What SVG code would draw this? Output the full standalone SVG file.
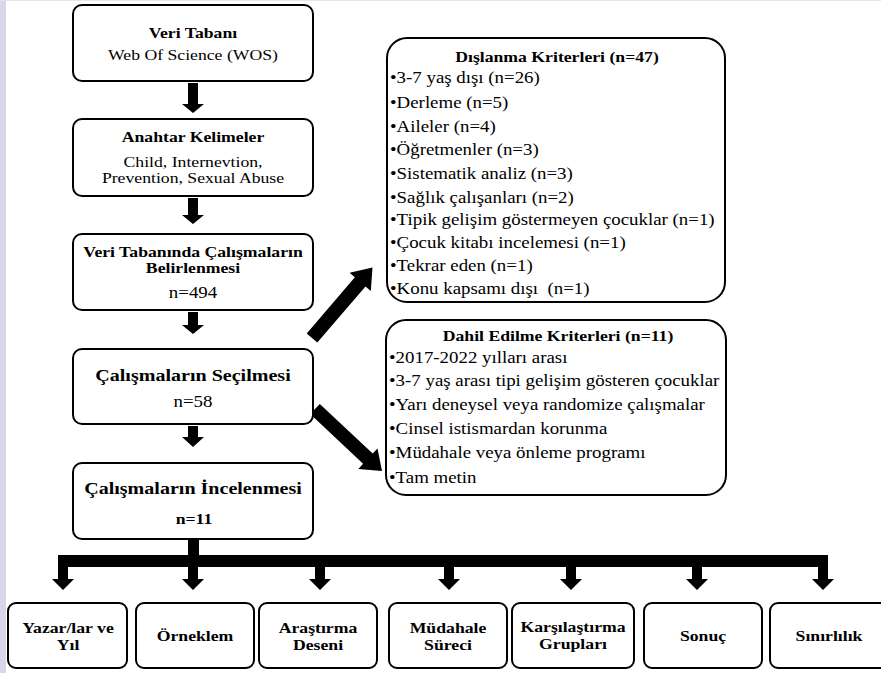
<svg xmlns="http://www.w3.org/2000/svg" width="881" height="673" viewBox="0 0 881 673">
  <style>
    .box { fill: #ffffff; stroke: #000000; stroke-width: 2; }
    .t { font-family: "Liberation Serif", "Times New Roman", serif; fill: #000000; }
    .c { text-anchor: middle; }
    .b { font-weight: bold; }
    .s15 { font-size: 15px; }
    .s16 { font-size: 16px; }
    .s17 { font-size: 17px; }
    .li { font-size: 16px; }
    .arrow { fill: #000000; }
  </style>

  <!-- page background and left margin band -->
  <rect x="0" y="0" width="881" height="673" fill="#ffffff"/>
  <rect x="0" y="0" width="6" height="673" fill="#d6d8e8"/>
  <rect x="0" y="0" width="881" height="1" fill="#e4e5ee"/>

  <!-- connectors -->
  <g id="connectors" class="arrow">
    <!-- vertical flow arrows in the left column -->
    <polygon points="188,83 198,83 198,104 204,104 193,113 182,104 188,104"/>
    <polygon points="188,198 198,198 198,215 204,215 193,224 182,215 188,215"/>
    <polygon points="188,312 198,312 198,325 204,325 193,334 182,325 188,325"/>
    <polygon points="188,426 198,426 198,437 204,437 193,447 182,437 188,437"/>
    <!-- to exclusion criteria -->
    <polygon points="306.7,333.4 354.9,277.3 349.6,272.8 372.5,267.5 370.8,291.0 365.5,286.5 317.3,342.6"/>
    <!-- to inclusion criteria -->
    <polygon points="319.8,403.9 372.7,453.6 377.5,448.5 382,471 358.3,468.9 363.1,463.8 310.2,414.1"/>
    <!-- trunk and distribution bar -->
    <rect x="188" y="539" width="11" height="18"/>
    <rect x="58" y="555" width="770" height="12"/>
    <!-- branch arrows -->
    <polygon points="58,566 68,566 68,579 74,579 63,590 52,579 58,579"/>
    <polygon points="188,566 198,566 198,579 204,579 193,590 182,579 188,579"/>
    <polygon points="315,566 325,566 325,579 331,579 320,590 309,579 315,579"/>
    <polygon points="444,566 454,566 454,579 460,579 449,590 438,579 444,579"/>
    <polygon points="566,566 576,566 576,579 582,579 571,590 560,579 566,579"/>
    <polygon points="692,566 702,566 702,579 708,579 697,590 686,579 692,579"/>
    <polygon points="818,566 828,566 828,579 834,579 823,590 812,579 818,579"/>
  </g>

  <!-- left column -->
  <g id="veri-tabani">
    <rect class="box" x="73" y="5" width="240" height="76" rx="9"/>
    <text class="t c b s15" transform="matrix(1.18 0 0 1 193 38)">Veri Tabanı</text>
    <text class="t c s15" transform="matrix(1.18 0 0 1 193 60)">Web Of Science (WOS)</text>
  </g>

  <g id="anahtar-kelimeler">
    <rect class="box" x="73" y="119" width="240" height="77" rx="9"/>
    <text class="t c b s15" transform="matrix(1.18 0 0 1 193 142)">Anahtar Kelimeler</text>
    <text class="t c s15" transform="matrix(1.18 0 0 1 193 167)">Child, Internevtion,</text>
    <text class="t c s15" transform="matrix(1.18 0 0 1 193 183)">Prevention, Sexual Abuse</text>
  </g>

  <g id="belirlenmesi">
    <rect class="box" x="73" y="234" width="240" height="76" rx="9"/>
    <text class="t c b s15" transform="matrix(1.18 0 0 1 193 257)">Veri Tabanında Çalışmaların</text>
    <text class="t c b s15" transform="matrix(1.18 0 0 1 193 273)">Belirlenmesi</text>
    <text class="t c s16" transform="matrix(1.18 0 0 1 193 298)">n=494</text>
  </g>

  <g id="secilmesi">
    <rect class="box" x="73" y="349" width="240" height="75" rx="9"/>
    <text class="t c b s17" transform="matrix(1.18 0 0 1 193 381)">Çalışmaların Seçilmesi</text>
    <text class="t c s16" transform="matrix(1.18 0 0 1 193 407)">n=58</text>
  </g>

  <g id="incelenmesi">
    <rect class="box" x="73" y="463" width="240" height="76" rx="9"/>
    <text class="t c b s17" transform="matrix(1.18 0 0 1 193 494)">Çalışmaların İncelenmesi</text>
    <text class="t c b s15" transform="matrix(1.18 0 0 1 194 524)">n=11</text>
  </g>

  <!-- criteria boxes -->
  <g id="dislanma">
    <rect class="box" x="387" y="38" width="338" height="264" rx="20"/>
    <text class="t c b s15" transform="matrix(1.18 0 0 1 557 62)">Dışlanma Kriterleri (n=47)</text>
    <text class="t li" transform="matrix(1.18 0 0 1 390 83)">•3-7 yaş dışı (n=26)</text>
    <text class="t li" transform="matrix(1.18 0 0 1 390 108)">•Derleme (n=5)</text>
    <text class="t li" transform="matrix(1.18 0 0 1 390 132)">•Aileler (n=4)</text>
    <text class="t li" transform="matrix(1.18 0 0 1 390 155)">•Öğretmenler (n=3)</text>
    <text class="t li" transform="matrix(1.18 0 0 1 390 179)">•Sistematik analiz (n=3)</text>
    <text class="t li" transform="matrix(1.18 0 0 1 390 203)">•Sağlık çalışanları (n=2)</text>
    <text class="t li" transform="matrix(1.18 0 0 1 390 225)">•Tipik gelişim göstermeyen çocuklar (n=1)</text>
    <text class="t li" transform="matrix(1.18 0 0 1 390 248)">•Çocuk kitabı incelemesi (n=1)</text>
    <text class="t li" transform="matrix(1.18 0 0 1 390 271)">•Tekrar eden (n=1)</text>
    <text class="t li" transform="matrix(1.18 0 0 1 390 294)" xml:space="preserve">•Konu kapsamı dışı  (n=1)</text>
  </g>

  <g id="dahil">
    <rect class="box" x="386" y="320" width="340" height="175" rx="20"/>
    <text class="t c b s15" transform="matrix(1.18 0 0 1 558 341)">Dahil Edilme Kriterleri (n=11)</text>
    <text class="t li" transform="matrix(1.18 0 0 1 389 363)">•2017-2022 yılları arası</text>
    <text class="t li" transform="matrix(1.18 0 0 1 389 386)">•3-7 yaş arası tipi gelişim gösteren çocuklar</text>
    <text class="t li" transform="matrix(1.18 0 0 1 389 410)">•Yarı deneysel veya randomize çalışmalar</text>
    <text class="t li" transform="matrix(1.18 0 0 1 389 434)">•Cinsel istismardan korunma</text>
    <text class="t li" transform="matrix(1.18 0 0 1 389 458)">•Müdahale veya önleme programı</text>
    <text class="t li" transform="matrix(1.18 0 0 1 389 483)">•Tam metin</text>
  </g>

  <!-- review headings -->
  <g id="yazar">
    <rect class="box" x="8" y="603" width="119" height="65" rx="8"/>
    <text class="t c b s15" transform="matrix(1.18 0 0 1 68 633)">Yazar/lar ve</text>
    <text class="t c b s15" transform="matrix(1.18 0 0 1 68 650)">Yıl</text>
  </g>
  <g id="orneklem">
    <rect class="box" x="136" y="603" width="118" height="65" rx="8"/>
    <text class="t c b s15" transform="matrix(1.18 0 0 1 195 641)">Örneklem</text>
  </g>
  <g id="desen">
    <rect class="box" x="259" y="603" width="118" height="65" rx="8"/>
    <text class="t c b s15" transform="matrix(1.18 0 0 1 318 633)">Araştırma</text>
    <text class="t c b s15" transform="matrix(1.18 0 0 1 318 650)">Deseni</text>
  </g>
  <g id="mudahale">
    <rect class="box" x="389" y="603" width="118" height="65" rx="8"/>
    <text class="t c b s15" transform="matrix(1.18 0 0 1 448 633)">Müdahale</text>
    <text class="t c b s15" transform="matrix(1.18 0 0 1 448 650)">Süreci</text>
  </g>
  <g id="karsilastirma">
    <rect class="box" x="512" y="603" width="122" height="65" rx="8"/>
    <text class="t c b s15" transform="matrix(1.18 0 0 1 573 632)">Karşılaştırma</text>
    <text class="t c b s15" transform="matrix(1.18 0 0 1 573 649)">Grupları</text>
  </g>
  <g id="sonuc">
    <rect class="box" x="644" y="603" width="118" height="65" rx="8"/>
    <text class="t c b s15" transform="matrix(1.18 0 0 1 703 641)">Sonuç</text>
  </g>
  <g id="sinirlilik">
    <rect class="box" x="770" y="603" width="120" height="65" rx="8"/>
    <text class="t c b s15" transform="matrix(1.18 0 0 1 829 641)">Sınırlılık</text>
  </g>
</svg>
